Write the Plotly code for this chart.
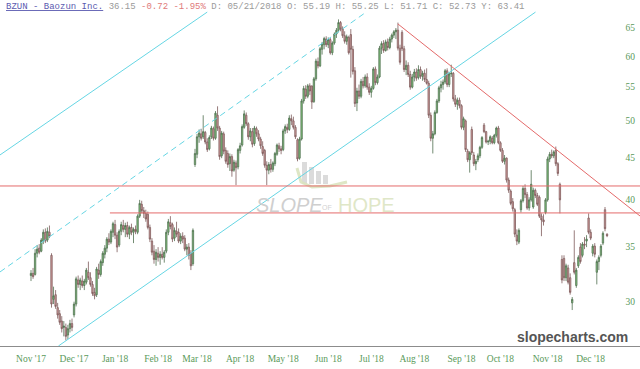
import math
import plotly.graph_objects as go

# ---------------- data ----------------
month_labels = ["Nov '17", "Dec '17", "Jan '18", "Feb '18", "Mar '18", "Apr '18", "May '18",
                "Jun '18", "Jul '18", "Aug '18", "Sep '18", "Oct '18", "Nov '18", "Dec '18"]
month_start_idx = [0, 21, 41, 62, 81, 102, 123, 145, 166, 187, 210, 229, 252, 273]
y_ticks = [30, 35, 40, 45, 50, 55, 60, 65]

opens = ([32.3, 32.5, 32.4, 34.4, 34.9, 34.6, 35.6, 36.5, 35.7, 36.5, 34.2, 30.2, 30.6, 29.5, 29.0, 28.4, 27.9, 27.9, 27.3, 27.8, 28.2]
         + [28.9, 29.8, 31.9, 31.5, 31.8, 31.4, 31.7, 32.6, 32.1, 31.5, 30.8, 30.6, 32.8, 32.4, 33.5, 34.3, 34.9, 35.8, 35.5, 36.5]
         + [37.3, 36.2, 35.2, 36.6, 37.2, 36.8, 37.2, 36.3, 37.0, 36.5, 36.8, 36.5, 38.2, 39.5, 38.8, 38.5, 38.4, 37.0, 35.6, 34.6, 33.8]
         + [34.4, 34.0, 34.3, 34.0, 34.6, 36.5, 37.5, 37.3, 35.9, 36.6, 36.5, 35.6, 36.1, 35.9, 34.8, 35.0, 34.4, 33.4, 44.2]
         + [45.5, 47.8, 48.2, 47.8, 48.4, 47.1, 46.2, 47.8, 48.9, 47.6, 50.8, 49.0, 45.3, 48.2, 46.0, 45.6, 44.3, 45.2, 43.5, 44.4, 43.9]
         + [46.0, 46.7, 49.1, 50.8, 49.6, 47.8, 48.5, 46.9, 48.9, 48.2, 47.5, 46.5, 46.0, 44.1, 43.5, 44.2, 43.6, 44.3, 45.5, 46.6, 46.2]
         + [46.1, 48.6, 49.1, 48.8, 50.3, 50.0, 49.1, 47.4, 45.0, 47.5, 52.9, 54.7, 53.6, 55.2, 55.19, 52.8, 56.3, 59.1, 58.4, 61.2, 62.0, 63.0]
         + [62.0, 62.9, 60.6, 62.3, 63.9, 64.6, 66.0, 64.8, 63.6, 62.6, 63.3, 63.8, 61.2, 57.6, 52.6, 54.4, 53.6, 55.9, 55.2, 56.6, 55.0]
         + [54.2, 54.8, 57.9, 55.7, 56.6, 61.4, 62.2, 61.0, 62.5, 61.5, 63.0, 63.7, 64.3, 64.6, 61.4, 64.2, 61.3, 57.8, 58.5, 57.0, 55.0]
         + [56.6, 57.4, 56.5, 57.8, 56.7, 57.2, 56.2, 55.6, 50.8, 47.6, 48.2, 51.2, 52.9, 54.9, 55.4, 55.8, 57.6, 55.4, 57.1, 57.2, 53.2, 52.4, 53.0]
         + [52.2, 49.1, 50.0, 45.9, 44.8, 48.8, 45.4, 44.3, 44.8, 45.3, 46.4, 49.4, 48.5, 47.1, 47.2, 47.6, 47.0, 48.0, 49.0]
         + [47.0, 46.0, 44.6, 45.0, 42.3, 41.0, 39.8, 38.9, 36.2, 35.5, 38.9, 39.9, 41.3, 40.6, 39.1, 40.0, 39.2, 41.1, 40.5, 40.3, 38.2, 37.8, 38.6]
         + [40.0, 44.9, 45.5, 45.3, 46.0, 44.3, 41.8, 33.8, 33.9, 32.1, 33.0, 32.1, 29.9, 33.5, 31.4, 33.2, 35.0, 34.2, 35.3, 35.6, 38.0]
         + [36.5, 34.4, 35.1, 32.6, 33.6, 34.2, 35.4, 38.9, 36.3])

highs = ([32.8, 33.0, 34.8, 35.2, 35.3, 35.9, 36.8, 36.9, 37.0, 37.2, 34.4, 31.3, 31.0, 29.9, 29.3, 28.8, 28.4, 28.2, 28.1, 28.5, 28.6]
         + [30.0, 32.2, 32.3, 32.1, 32.3, 32.0, 33.0, 33.6, 32.6, 31.8, 31.2, 33.1, 33.4, 33.8, 34.6, 35.2, 36.0, 36.4, 36.8, 37.6]
         + [37.8, 36.5, 36.8, 37.6, 37.8, 37.5, 37.6, 37.2, 37.4, 37.0, 37.2, 38.4, 40.0, 39.9, 39.2, 38.9, 38.7, 37.3, 35.9, 35.2, 34.8]
         + [35.0, 34.6, 35.0, 34.7, 36.8, 37.9, 38.2, 37.5, 37.0, 37.6, 36.9, 36.4, 36.5, 36.2, 35.3, 35.4, 34.7, 36.9, 46.2]
         + [48.2, 48.8, 48.9, 50.8, 48.6, 47.6, 48.0, 49.3, 49.2, 51.4, 52.1, 49.3, 48.6, 48.5, 46.4, 46.0, 45.6, 45.5, 44.8, 44.7, 46.3]
         + [47.0, 49.5, 51.5, 51.2, 49.8, 49.0, 49.0, 49.3, 49.2, 48.7, 47.8, 47.2, 46.2, 44.6, 44.5, 44.9, 44.6, 45.8, 46.9, 47.0, 46.6]
         + [48.9, 49.5, 49.6, 50.8, 50.9, 50.6, 49.4, 47.6, 47.8, 53.2, 55.2, 55.3, 55.5, 55.6, 55.25, 56.6, 59.6, 59.8, 61.6, 62.5, 63.4, 63.5]
         + [63.3, 63.2, 62.6, 64.2, 65.0, 66.6, 66.3, 65.3, 64.4, 63.8, 63.6, 64.8, 61.8, 58.2, 54.9, 55.4, 56.3, 56.6, 57.0, 57.2, 55.6]
         + [55.2, 58.2, 58.3, 57.0, 61.8, 62.6, 62.8, 62.9, 63.1, 63.4, 64.0, 64.6, 65.0, 66.0, 62.0, 64.6, 61.8, 59.3, 59.0, 57.6, 57.1]
         + [57.9, 58.0, 58.5, 58.3, 57.6, 57.8, 58.0, 56.0, 51.2, 48.6, 51.5, 53.2, 55.2, 56.0, 56.2, 57.9, 58.0, 57.4, 58.6, 57.4, 53.8, 53.4, 53.4]
         + [52.4, 50.6, 50.2, 46.2, 45.9, 49.2, 45.8, 44.9, 45.6, 46.6, 47.9, 49.7, 48.6, 47.4, 48.0, 47.9, 48.2, 49.2, 49.3]
         + [47.2, 46.3, 45.4, 45.1, 42.6, 41.2, 40.2, 39.1, 36.8, 36.9, 40.1, 41.6, 41.8, 40.9, 40.3, 43.5, 41.4, 41.3, 40.8, 40.5, 38.5, 38.4, 40.2]
         + [45.2, 45.8, 46.1, 46.0, 46.5, 44.5, 42.0, 34.2, 34.2, 33.4, 33.3, 32.5, 30.4, 36.7, 33.0, 34.2, 35.4, 35.5, 36.0, 36.2, 38.5]
         + [36.8, 35.3, 35.4, 33.8, 34.2, 35.3, 36.6, 39.2, 36.4])

lows = ([31.8, 32.0, 32.3, 34.0, 34.3, 34.5, 35.3, 35.4, 35.5, 35.9, 29.5, 29.8, 29.4, 28.6, 28.1, 27.5, 27.2, 26.9, 27.0, 27.5, 27.6]
        + [28.7, 29.6, 31.2, 31.0, 31.2, 31.0, 31.5, 31.9, 31.3, 30.5, 30.2, 30.4, 32.0, 32.2, 33.2, 33.9, 34.5, 35.2, 35.3, 36.0]
        + [35.8, 34.5, 35.0, 36.2, 36.5, 36.0, 36.0, 35.8, 36.2, 35.4, 36.3, 36.3, 38.0, 38.5, 38.0, 37.6, 36.8, 35.5, 34.2, 33.4, 33.2]
        + [33.6, 33.3, 33.8, 33.5, 34.4, 36.2, 36.8, 35.5, 35.6, 36.0, 35.4, 35.3, 35.4, 34.6, 34.2, 33.8, 32.8, 33.2, 43.9]
        + [45.0, 47.0, 47.3, 47.5, 46.8, 45.8, 46.0, 47.5, 47.3, 47.4, 48.6, 44.8, 45.0, 45.5, 44.3, 43.8, 43.4, 42.7, 43.3, 41.7, 43.6]
        + [45.6, 46.5, 48.9, 49.3, 47.4, 47.2, 46.4, 46.6, 47.8, 47.2, 46.2, 45.3, 43.8, 41.7, 43.0, 43.2, 43.3, 44.0, 45.3, 45.8, 45.5]
        + [45.9, 48.2, 48.3, 48.6, 49.4, 48.8, 47.5, 44.6, 44.8, 47.3, 52.5, 53.2, 53.3, 53.8, 51.71, 52.6, 56.0, 58.0, 58.2, 60.3, 61.2, 61.6]
        + [61.4, 60.3, 60.2, 62.0, 63.2, 64.2, 64.4, 63.2, 62.2, 62.0, 60.3, 56.5, 57.0, 52.0, 51.4, 53.2, 53.3, 54.8, 54.9, 54.6, 53.8]
        + [53.4, 54.6, 55.3, 55.4, 56.4, 60.4, 60.6, 60.8, 61.0, 61.2, 62.4, 63.2, 63.0, 61.0, 58.6, 60.9, 57.4, 56.9, 56.6, 54.6, 54.8]
        + [55.9, 56.0, 56.2, 56.3, 56.0, 55.8, 55.4, 50.4, 47.2, 45.6, 48.0, 51.0, 52.6, 54.2, 54.6, 55.5, 55.0, 55.0, 56.6, 52.8, 52.0, 51.6, 51.8]
        + [48.8, 48.7, 45.8, 44.5, 43.2, 45.4, 44.0, 43.5, 44.5, 45.0, 46.2, 48.3, 46.9, 46.7, 46.8, 46.8, 46.8, 47.7, 46.8]
        + [45.8, 44.4, 44.2, 42.0, 40.8, 39.4, 38.7, 36.0, 35.2, 35.3, 38.6, 39.7, 40.2, 38.9, 38.8, 39.8, 39.0, 40.2, 39.3, 38.0, 36.1, 37.2, 38.4]
        + [39.8, 44.5, 45.0, 45.0, 44.0, 42.8, 38.5, 31.6, 31.8, 31.8, 31.5, 30.6, 29.3, 32.4, 31.2, 33.0, 33.4, 34.0, 34.8, 35.0, 36.3]
        + [35.7, 34.1, 34.0, 31.5, 32.8, 34.0, 35.2, 36.6, 36.0])

closes = ([32.5, 32.2, 34.4, 34.8, 34.5, 35.7, 36.5, 35.6, 36.6, 36.1, 29.8, 30.5, 29.6, 28.9, 28.3, 27.8, 28.0, 27.2, 27.8, 28.2, 27.9]
          + [29.8, 32.0, 31.5, 31.9, 31.4, 31.8, 32.8, 32.1, 31.5, 30.7, 30.5, 32.9, 32.4, 33.6, 34.4, 34.9, 35.8, 35.5, 36.6, 37.4]
          + [36.2, 35.0, 36.6, 37.3, 36.8, 37.2, 36.3, 37.0, 36.5, 36.8, 36.6, 38.2, 39.6, 38.8, 38.5, 37.9, 37.0, 35.8, 34.5, 33.8, 34.5]
          + [34.0, 34.3, 34.0, 34.5, 36.5, 37.6, 37.1, 35.8, 36.7, 36.3, 35.6, 36.1, 35.8, 34.8, 35.0, 34.2, 33.2, 36.7, 45.6]
          + [47.8, 48.3, 47.6, 48.5, 47.1, 46.1, 47.7, 49.0, 47.6, 51.1, 49.0, 45.2, 48.3, 45.9, 44.6, 44.2, 45.2, 43.4, 44.5, 43.8, 46.1]
          + [46.6, 49.2, 51.0, 49.6, 47.8, 48.6, 46.8, 49.0, 48.2, 47.5, 46.6, 45.6, 44.1, 43.5, 44.2, 43.6, 44.4, 45.6, 46.7, 46.2, 46.0]
          + [48.6, 49.2, 48.8, 50.4, 50.0, 49.1, 47.8, 44.9, 47.5, 52.9, 54.8, 53.6, 55.2, 54.4, 52.73, 56.3, 59.2, 58.4, 61.3, 62.1, 63.1, 62.0]
          + [62.9, 60.6, 62.3, 63.9, 64.6, 66.0, 64.8, 63.6, 62.6, 63.4, 60.6, 61.2, 57.5, 52.5, 54.4, 53.6, 55.9, 55.2, 56.6, 55.0, 54.2]
          + [54.8, 57.9, 55.7, 56.6, 61.4, 62.2, 61.0, 62.5, 61.5, 63.0, 63.7, 64.3, 64.6, 61.4, 59.0, 61.3, 57.8, 58.5, 57.0, 55.0, 56.6]
          + [57.4, 56.4, 57.8, 56.7, 57.2, 56.2, 55.6, 50.8, 47.6, 48.2, 51.2, 52.9, 54.9, 55.4, 55.8, 57.6, 55.4, 57.1, 57.2, 53.2, 52.4, 53.0, 52.2]
          + [49.1, 50.3, 46.1, 44.8, 45.7, 45.7, 44.3, 44.6, 45.3, 46.4, 47.7, 48.5, 47.1, 47.2, 47.8, 47.0, 48.0, 49.0, 47.0]
          + [46.0, 44.6, 45.0, 42.3, 41.1, 39.6, 39.0, 36.3, 35.6, 36.7, 39.9, 41.3, 40.6, 39.1, 40.0, 41.8, 41.1, 40.5, 39.5, 38.2, 37.8, 37.6, 40.0]
          + [44.9, 45.5, 45.3, 45.8, 44.3, 43.1, 40.0, 31.9, 32.1, 33.2, 31.7, 30.8, 30.2, 32.6, 32.8, 34.0, 33.6, 35.3, 35.2, 35.8, 36.5]
          + [35.9, 35.1, 34.3, 33.6, 34.0, 35.1, 36.4, 36.87, 36.15])

# drawn trend lines: (bar index, price) endpoints
cyan_upper_x, cyan_upper_y = [-15.12, 85.96], [45.41, 67.99]
cyan_dashed_x, cyan_dashed_y = [-15.12, 163.5], [32.63, 67.99]
cyan_lower_x, cyan_lower_y = [13.38, 246.1], [26.47, 67.99]
red_diag_x, red_diag_y = [179.0, 297.07], [65.74, 38.22]
red_h1_x, red_h1_y = [-15.12, 297.07], [41.6, 41.6]
red_h2_x, red_h2_y = [38.5, 297.07], [38.55, 38.55]

assert len(opens) == len(highs) == len(lows) == len(closes), (len(opens), len(highs), len(lows), len(closes))
n = len(closes)
idx = list(range(n))

W, H = 640, 369
PLOT_H = 346
GREEN_TXT = "#5a9a5a"

fig = go.Figure()

def add_line(xs, ys, color, dash=None, width=1):
    fig.add_trace(go.Scatter(x=xs, y=ys, mode="lines", hoverinfo="skip",
                             line=dict(color=color, width=width, dash=dash)))

add_line(cyan_upper_x, cyan_upper_y, "#66d6e4")
add_line(cyan_dashed_x, cyan_dashed_y, "#66d6e4", dash="6px,4px")
add_line(cyan_lower_x, cyan_lower_y, "#66d6e4")
add_line(red_h1_x, red_h1_y, "#e46a6a")
add_line(red_h2_x, red_h2_y, "#e46a6a")
add_line(red_diag_x, red_diag_y, "#e46a6a")

fig.add_trace(go.Candlestick(
    x=idx, open=opens, high=highs, low=lows, close=closes,
    increasing=dict(line=dict(color="#4f6e4f", width=0.8), fillcolor="#86cc80"),
    decreasing=dict(line=dict(color="#7d5b5b", width=0.8), fillcolor="#d9a3a3"),
    whiskerwidth=0, hoverinfo="skip",
))

# ---- watermark (pixel helpers) ----
def px(x):
    return x / W

def py(y):
    return 1 - y / PLOT_H

shapes = []
for (x0, x1, y0) in [(302, 307, 162), (309, 314, 167), (316, 321, 171), (323, 328, 175)]:
    shapes.append(dict(type="rect", xref="paper", yref="paper", x0=px(x0), x1=px(x1),
                       y0=py(184), y1=py(y0), line=dict(width=0), fillcolor="#bdbdbd", opacity=0.55,
                       layer="below"))
pts = [(297, 168), (301, 182), (312, 187), (330, 186), (347, 182)]
path = "M " + " L ".join(f"{px(a):.5f},{py(b):.5f}" for a, b in pts)
shapes.append(dict(type="path", xref="paper", yref="paper", path=path,
                   line=dict(color="#dbe4bf", width=3), layer="below", opacity=0.9))

annotations = [
    dict(xref="paper", yref="paper", x=px(289), y=py(205), text="<i>SLOPE</i>", showarrow=False,
         font=dict(family="Liberation Sans", size=20, color="#cfcfcf"), xanchor="center", yanchor="middle"),
    dict(xref="paper", yref="paper", x=px(327), y=py(207), text="OF", showarrow=False,
         font=dict(family="Liberation Sans", size=7, color="#d2d2d2"), xanchor="center", yanchor="middle"),
    dict(xref="paper", yref="paper", x=px(336), y=py(205), text="HOPE", showarrow=False,
         font=dict(family="Liberation Sans", size=20, color="#dfe7c8"), xanchor="left", yanchor="middle"),
    dict(xref="paper", yref="paper", x=px(572), y=py(337), text="<b>slopecharts.com</b>", showarrow=False,
         font=dict(family="Liberation Sans", size=14, color="#555555"), xanchor="center", yanchor="middle"),
    dict(xref="paper", yref="paper", x=px(4), y=py(7), xanchor="left", yanchor="middle", showarrow=False,
         text=('<span style="color:#5b5bb0;text-decoration:underline">BZUN - Baozun Inc.</span> '
               '<span style="color:#9a9a9a">36.15</span> '
               '<span style="color:#e07a7a">-0.72 -1.95%</span> '
               '<span style="color:#9a9a9a">D: 05/21/2018 O: 55.19 H: 55.25 L: 51.71 C: 52.73 Y: 63.41</span>'),
         font=dict(family="Liberation Mono", size=9, color="#9a9a9a")),
]

log_lo, log_hi = math.log10(26.47), math.log10(70.35)

fig.update_layout(
    width=W, height=H,
    margin=dict(l=0, r=0, t=0, b=H - PLOT_H),
    paper_bgcolor="white", plot_bgcolor="white",
    showlegend=False, boxgap=0.05,
    shapes=shapes, annotations=annotations,
    xaxis=dict(range=[-15.12, 297.07], tickmode="array", tickvals=month_start_idx, ticktext=month_labels,
               showgrid=False, zeroline=False, showline=True, linecolor="#8c8c8c", linewidth=1,
               ticks="", ticklabelstandoff=4,
               tickfont=dict(family="Liberation Serif", size=9.5, color=GREEN_TXT),
               rangeslider=dict(visible=False), fixedrange=True),
    yaxis=dict(type="log", range=[log_lo, log_hi], side="right", ticklabelposition="inside",
               tickmode="array", tickvals=y_ticks, ticktext=[str(v) for v in y_ticks],
               showgrid=False, zeroline=False, showline=False, ticks="", ticklabelstandoff=2,
               tickfont=dict(family="Liberation Serif", size=9.5, color=GREEN_TXT)),
)

fig.write_html("out.html")
